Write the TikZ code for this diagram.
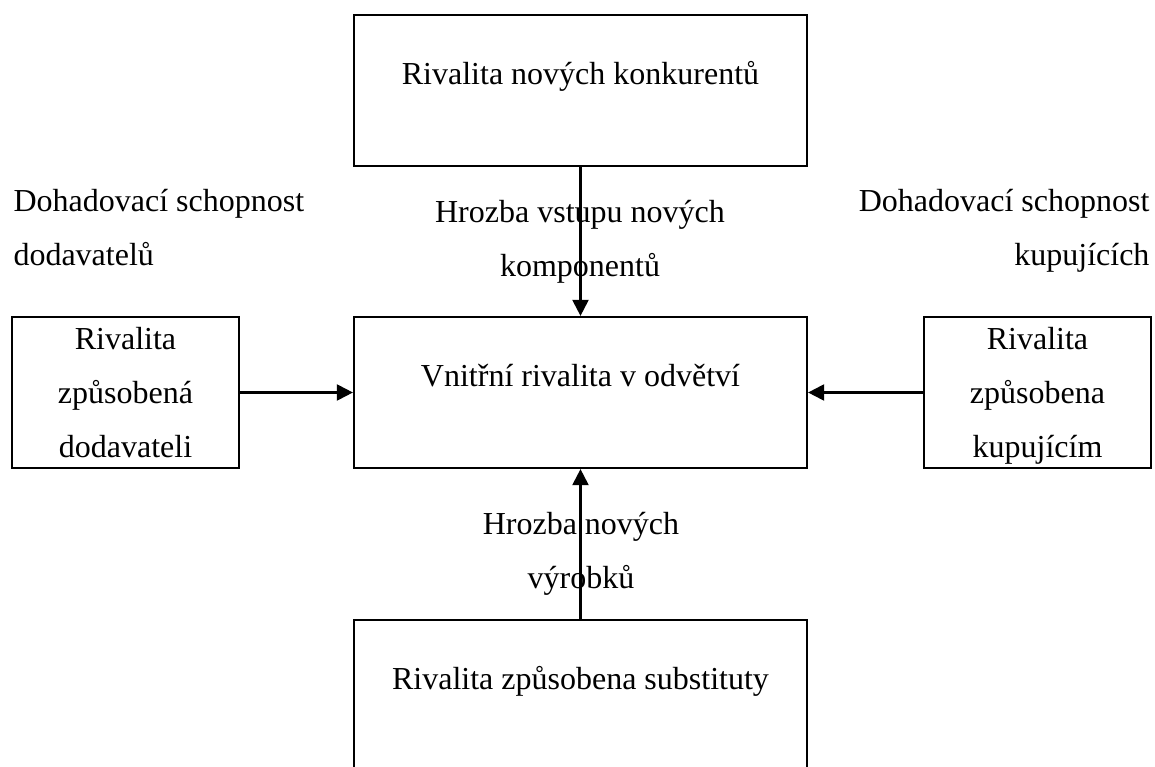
\documentclass[tikz,border=0pt]{standalone}
\usepackage{fontspec}
\setmainfont{Liberation Serif}
\usetikzlibrary{arrows.meta}

\begin{document}
\begin{tikzpicture}[x=0.375pt,y=-0.375pt,
		every node/.style={font=\fontsize{12pt}{20.25pt}\selectfont,inner sep=0pt},
		bigbox/.style={draw,line width=0.8pt,minimum width=169.9pt,minimum height=56.6pt,text height=26.25pt,text depth=30.4pt},
		sidebox/.style={draw,line width=0.8pt,minimum width=85.1pt,minimum height=56.6pt,align=center,text depth=0pt},
		arr/.style={-{Triangle[length=6pt,width=6pt]},line width=0.8pt}]
		\useasboundingbox (0,0) rectangle (1155,767);
		\clip (0,0) rectangle (1155,767);
		% boxes
		\node[bigbox] (konk) at (580.5,90.5) {Rivalita nových konkurentů};
		\node[bigbox] (vnitr) at (580.5,392.5) {Vnitřní rivalita v odvětví};
		\node[bigbox] (subst) at (580.5,695.5) {Rivalita způsobena substituty};
		\node[sidebox] (dod) at (125.5,392.5) {Rivalita\\způsobená\\dodavateli};
		\node[sidebox] (kup) at (1037.5,392.5) {Rivalita\\způsobena\\kupujícím};
		% labels
		\node[anchor=north west,align=left] (ldod) at (13,189) {Dohadovací schopnost\\dodavatelů};
		\node[anchor=north east,align=right] (lkup) at (1150,189) {Dohadovací schopnost\\kupujících};
		\node[anchor=north,align=center] (lvstup) at (580,200) {Hrozba vstupu nových\\komponentů};
		\node[anchor=north,align=center] (lvyr) at (581,512) {Hrozba nových\\výrobků};
		% arrows
		\draw[arr] (konk) -- (vnitr);
		\draw[arr] (subst) -- (vnitr);
		\draw[arr] (dod) -- (vnitr);
		\draw[arr] (kup) -- (vnitr);
\end{tikzpicture}
\end{document}
